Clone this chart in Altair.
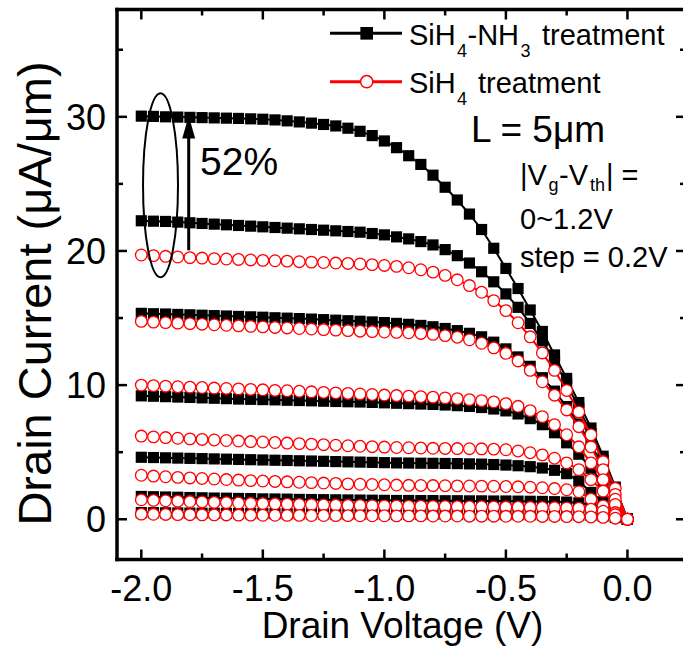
import altair as alt
import pandas as pd

FONT = "Liberation Sans"

# ---------------- data ----------------
vd = [-2.0, -1.95, -1.9, -1.85, -1.8, -1.75, -1.7, -1.65, -1.6, -1.55,
      -1.5, -1.45, -1.4, -1.35, -1.3, -1.25, -1.2, -1.15, -1.1, -1.05,
      -1.0, -0.95, -0.9, -0.85, -0.8, -0.75, -0.7, -0.65, -0.6, -0.55,
      -0.5, -0.45, -0.4, -0.35, -0.3, -0.25, -0.2, -0.15, -0.1, -0.05, 0.0]

# SiH4-NH3 treatment (black squares), |Vg-Vth| = 1.2 ... 0 V
b1 = [30.05, 30.03, 30.0, 29.98, 29.96, 29.94, 29.92, 29.9, 29.88, 29.85,
      29.82, 29.77, 29.7, 29.62, 29.53, 29.43, 29.32, 29.15, 28.92, 28.6,
      28.2, 27.7, 27.1, 26.45, 25.65, 24.75, 23.8, 22.75, 21.6, 20.2,
      18.7, 17.2, 15.6, 14.0, 12.25, 10.5, 8.7, 6.8, 4.7, 2.4, 0.0]
b2 = [22.25, 22.22, 22.2, 22.15, 22.1, 22.05, 22.0, 21.95, 21.9, 21.85,
      21.8, 21.75, 21.7, 21.65, 21.6, 21.55, 21.5, 21.45, 21.4, 21.3,
      21.2, 21.05, 20.9, 20.7, 20.45, 20.1, 19.65, 19.1, 18.45, 17.7,
      16.8, 15.8, 14.6, 13.3, 11.8, 10.1, 8.3, 6.4, 4.4, 2.25, 0.0]
b3 = [15.35, 15.32, 15.3, 15.27, 15.24, 15.21, 15.18, 15.15, 15.12, 15.09,
      15.06, 15.02, 14.99, 14.96, 14.92, 14.88, 14.84, 14.8, 14.76, 14.71,
      14.66, 14.6, 14.53, 14.45, 14.35, 14.22, 14.06, 13.86, 13.6, 13.2,
      12.7, 12.1, 11.4, 10.55, 9.55, 8.4, 7.1, 5.6, 3.9, 2.0, 0.0]
b4 = [9.2, 9.17, 9.14, 9.11, 9.08, 9.05, 9.02, 8.99, 8.96, 8.94,
      8.92, 8.9, 8.87, 8.85, 8.83, 8.8, 8.78, 8.76, 8.74, 8.71,
      8.68, 8.65, 8.62, 8.59, 8.56, 8.52, 8.47, 8.41, 8.33, 8.22,
      8.08, 7.85, 7.5, 7.05, 6.45, 5.7, 4.85, 3.8, 2.65, 1.35, 0.0]
b5 = [4.62, 4.6, 4.58, 4.56, 4.54, 4.52, 4.5, 4.48, 4.46, 4.44,
      4.42, 4.4, 4.38, 4.36, 4.34, 4.32, 4.3, 4.28, 4.26, 4.24,
      4.22, 4.2, 4.19, 4.18, 4.17, 4.16, 4.15, 4.13, 4.11, 4.08,
      4.04, 3.99, 3.92, 3.82, 3.65, 3.4, 2.85, 2.0, 1.3, 0.65, 0.0]
b6 = [1.7, 1.68, 1.66, 1.64, 1.62, 1.6, 1.58, 1.57, 1.55, 1.54,
      1.52, 1.51, 1.5, 1.48, 1.47, 1.46, 1.45, 1.44, 1.43, 1.42,
      1.41, 1.4, 1.4, 1.39, 1.39, 1.38, 1.38, 1.37, 1.37, 1.36,
      1.36, 1.35, 1.34, 1.33, 1.31, 1.28, 1.22, 1.1, 0.8, 0.42, 0.0]
b7 = [0.5, 0.49, 0.48, 0.47, 0.46, 0.45, 0.45, 0.44, 0.43, 0.43,
      0.42, 0.42, 0.41, 0.41, 0.4, 0.4, 0.39, 0.39, 0.38, 0.38,
      0.38, 0.37, 0.37, 0.37, 0.36, 0.36, 0.36, 0.35, 0.35, 0.35,
      0.34, 0.34, 0.34, 0.33, 0.33, 0.32, 0.31, 0.29, 0.24, 0.13, 0.0]

# SiH4 treatment (red open circles)
r1 = [19.7, 19.65, 19.6, 19.55, 19.5, 19.47, 19.43, 19.4, 19.37, 19.33,
      19.3, 19.27, 19.24, 19.2, 19.17, 19.14, 19.1, 19.07, 19.03, 18.98,
      18.92, 18.85, 18.75, 18.6, 18.42, 18.18, 17.85, 17.42, 16.92, 16.3,
      15.55, 14.65, 13.6, 12.4, 11.1, 9.6, 8.0, 6.3, 4.3, 2.3, 0.0]
r2 = [14.75, 14.7, 14.66, 14.62, 14.58, 14.54, 14.5, 14.46, 14.42, 14.38,
      14.34, 14.3, 14.26, 14.22, 14.18, 14.14, 14.1, 14.06, 14.02, 13.99,
      13.96, 13.93, 13.9, 13.85, 13.78, 13.69, 13.57, 13.38, 13.12, 12.78,
      12.37, 11.8, 11.1, 10.25, 9.25, 8.15, 6.9, 5.4, 3.7, 1.85, 0.0]
r3 = [10.0, 9.96, 9.92, 9.88, 9.85, 9.82, 9.78, 9.75, 9.72, 9.68,
      9.65, 9.61, 9.58, 9.54, 9.5, 9.46, 9.42, 9.38, 9.34, 9.3,
      9.26, 9.22, 9.18, 9.14, 9.1, 9.05, 8.99, 8.92, 8.84, 8.75,
      8.62, 8.42, 8.1, 7.65, 7.05, 6.3, 5.4, 4.2, 2.95, 1.5, 0.0]
r4 = [6.2, 6.14, 6.09, 6.04, 5.99, 5.95, 5.91, 5.87, 5.83, 5.79,
      5.76, 5.72, 5.68, 5.64, 5.6, 5.56, 5.52, 5.48, 5.44, 5.41,
      5.38, 5.35, 5.33, 5.31, 5.29, 5.28, 5.27, 5.26, 5.25, 5.23,
      5.18, 5.09, 4.96, 4.8, 4.55, 4.2, 3.7, 2.95, 2.1, 1.1, 0.0]
r5 = [3.28, 3.22, 3.17, 3.12, 3.08, 3.04, 3.0, 2.96, 2.92, 2.88,
      2.85, 2.82, 2.79, 2.76, 2.73, 2.7, 2.67, 2.64, 2.61, 2.59,
      2.57, 2.55, 2.53, 2.52, 2.51, 2.5, 2.49, 2.48, 2.47, 2.46,
      2.44, 2.42, 2.39, 2.35, 2.29, 2.2, 2.05, 1.5, 1.0, 0.5, 0.0]
r6 = [1.45, 1.41, 1.38, 1.35, 1.32, 1.29, 1.26, 1.24, 1.21, 1.19,
      1.17, 1.15, 1.13, 1.11, 1.09, 1.07, 1.06, 1.04, 1.03, 1.01,
      1.0, 0.99, 0.98, 0.97, 0.96, 0.95, 0.94, 0.93, 0.93, 0.92,
      0.91, 0.9, 0.89, 0.88, 0.87, 0.85, 0.82, 0.75, 0.6, 0.35, 0.0]
r7 = [0.38, 0.37, 0.36, 0.35, 0.34, 0.33, 0.33, 0.32, 0.31, 0.31,
      0.3, 0.3, 0.29, 0.29, 0.28, 0.28, 0.27, 0.27, 0.26, 0.26,
      0.26, 0.25, 0.25, 0.25, 0.24, 0.24, 0.24, 0.23, 0.23, 0.23,
      0.22, 0.22, 0.22, 0.21, 0.21, 0.2, 0.19, 0.17, 0.14, 0.08, 0.0]

black_curves = [b1, b2, b3, b4, b5, b6, b7]
red_curves = [r1, r2, r3, r4, r5, r6, r7]

x_major = [-2.0, -1.5, -1.0, -0.5, 0.0]
x_labels = ["-2.0", "-1.5", "-1.0", "-0.5", "0.0"]
x_minor = [-1.75, -1.25, -0.75, -0.25]
y_major = [0, 10, 20, 30]
y_labels = ["0", "10", "20", "30"]
y_minor = [5, 15, 25, 35]
x_domain = [-2.1, 0.2286]
y_domain = [-3, 38]

x_title = "Drain Voltage (V)"
y_title = "Drain Current (\u03bcA/\u03bcm)"

# annotation: arrow and ellipse (data coordinates)
arrow_x = [-1.805]
arrow_from = [20.05]
arrow_to = [30.1]
ellipse_x = [-1.921]
ellipse_y = [24.9]

# ---------------- layout ----------------
PAD_L, PAD_T, PAD_R, PAD_B = 117, 9.5, 0, 88.5
W, H = 566, 550


def df_from(curves):
    rows = []
    for k, ys_ in enumerate(curves):
        for v, i in zip(vd, ys_):
            rows.append({"Vd": v, "Id": i, "curve": k})
    return pd.DataFrame(rows)


df_b = df_from(black_curves)
df_r = df_from(red_curves)

xs = alt.Scale(domain=x_domain, nice=False, zero=False)
ys = alt.Scale(domain=y_domain, nice=False, zero=False)


def X(f):
    return alt.X(f, scale=xs, axis=None)


def Y(f):
    return alt.Y(f, scale=ys, axis=None)


black_line = alt.Chart(df_b).mark_line(color="black", strokeWidth=2).encode(
    x=X("Vd:Q"), y=Y("Id:Q"), detail="curve:N")
black_pts = alt.Chart(df_b).mark_point(shape="square", filled=True, color="black",
                                        size=125, opacity=1).encode(
    x=X("Vd:Q"), y=Y("Id:Q"))
red_line = alt.Chart(df_r).mark_line(color="#ff0000", strokeWidth=2).encode(
    x=X("Vd:Q"), y=Y("Id:Q"), detail="curve:N")
red_pts = alt.Chart(df_r).mark_point(shape="circle", filled=True, fill="white",
                                      stroke="#ff0000", strokeWidth=1.3, size=135,
                                      opacity=1, fillOpacity=1).encode(
    x=X("Vd:Q"), y=Y("Id:Q"))

one = pd.DataFrame({"d": [0]})

# ---- frame (left, top, bottom) ----
FW = 3.5
frame = [
    alt.Chart(one).mark_rule(color="black", strokeWidth=FW, strokeCap="square").encode(
        x=alt.value(0), y=alt.value(0), y2=alt.value(H)),
    alt.Chart(one).mark_rule(color="black", strokeWidth=FW, strokeCap="square").encode(
        x=alt.value(0), x2=alt.value(W + 3), y=alt.value(0)),
    alt.Chart(one).mark_rule(color="black", strokeWidth=FW, strokeCap="square").encode(
        x=alt.value(0), x2=alt.value(W + 3), y=alt.value(H)),
]

# ---- ticks (inward) ----
df_xmaj = pd.DataFrame({"v": x_major, "lab": x_labels})
df_xmin = pd.DataFrame({"v": x_minor})
df_ymaj = pd.DataFrame({"v": y_major, "lab": y_labels})
df_ymin = pd.DataFrame({"v": y_minor})
TW = 2.5
tick_layers = [
    alt.Chart(df_xmaj).mark_rule(color="black", strokeWidth=TW).encode(
        x=X("v:Q"), y=alt.value(0), y2=alt.value(10)),
    alt.Chart(df_xmin).mark_rule(color="black", strokeWidth=TW).encode(
        x=X("v:Q"), y=alt.value(0), y2=alt.value(6)),
    alt.Chart(df_xmaj).mark_rule(color="black", strokeWidth=TW).encode(
        x=X("v:Q"), y=alt.value(H), y2=alt.value(H - 10)),
    alt.Chart(df_xmin).mark_rule(color="black", strokeWidth=TW).encode(
        x=X("v:Q"), y=alt.value(H), y2=alt.value(H - 6)),
    alt.Chart(df_ymaj).mark_rule(color="black", strokeWidth=TW).encode(
        y=Y("v:Q"), x=alt.value(0), x2=alt.value(10)),
    alt.Chart(df_ymin).mark_rule(color="black", strokeWidth=TW).encode(
        y=Y("v:Q"), x=alt.value(0), x2=alt.value(6)),
    alt.Chart(df_ymaj).mark_rule(color="black", strokeWidth=TW).encode(
        y=Y("v:Q"), x=alt.value(W - 7), x2=alt.value(W)),
    alt.Chart(df_ymin).mark_rule(color="black", strokeWidth=TW).encode(
        y=Y("v:Q"), x=alt.value(W - 3), x2=alt.value(W)),
]

# ---- tick labels and axis titles ----
label_layers = [
    alt.Chart(df_xmaj).mark_text(font=FONT, fontSize=36, align="center",
                                 baseline="alphabetic", color="black").encode(
        x=X("v:Q"), y=alt.value(H + 41.5), text="lab:N"),
    alt.Chart(df_ymaj).mark_text(font=FONT, fontSize=36, align="right",
                                 baseline="middle", dy=2, color="black").encode(
        y=Y("v:Q"), x=alt.value(-11), text="lab:N"),
    alt.Chart(one).mark_text(text=x_title, font=FONT, fontSize=37, align="center",
                             baseline="alphabetic", color="black").encode(
        x=alt.value(285.5), y=alt.value(H + 78.5)),
    alt.Chart(one).mark_text(text=y_title, font=FONT, fontSize=47, align="center",
                             baseline="alphabetic", angle=270, color="black").encode(
        x=alt.value(-65.6), y=alt.value(284)),
]

# ---- arrow + ellipse ----
df_arrow = pd.DataFrame({"x": arrow_x, "y1": arrow_from, "y2": arrow_to})
arrow_line = alt.Chart(df_arrow).transform_calculate(ys2="datum.y2 - 1.4").mark_rule(
    color="black", strokeWidth=3).encode(
    x=X("x:Q"), y=Y("y1:Q"), y2="ys2:Q")
arrow_head = alt.Chart(df_arrow).mark_point(
    shape="M0,-1L0.56,1L-0.56,1Z", filled=True, color="black", size=529, opacity=1,
    yOffset=11.5).encode(x=X("x:Q"), y=Y("y2:Q"))
df_ell = pd.DataFrame({"x": ellipse_x, "y": ellipse_y})
ellipse = alt.Chart(df_ell).mark_point(
    shape="M0,-1A0.19,1,0,1,1,0,1A0.19,1,0,1,1,0,-1Z", filled=False, stroke="black",
    strokeWidth=2, size=33856, opacity=1).encode(x=X("x:Q"), y=Y("y:Q"))


# ---- legend and text annotations (page pixel positions) ----
def txt(s, px, py, size):
    return alt.Chart(one).mark_text(
        text=s, font=FONT, fontSize=size, align="left", baseline="alphabetic",
        color="black").encode(x=alt.value(px - PAD_L), y=alt.value(py - PAD_T))


legend_layers = [
    alt.Chart(one).mark_rule(color="black", strokeWidth=3).encode(
        x=alt.value(330 - PAD_L), x2=alt.value(402 - PAD_L), y=alt.value(33.3 - PAD_T)),
    alt.Chart(one).mark_point(shape="square", filled=True, color="black", size=160,
                              opacity=1).encode(
        x=alt.value(366.7 - PAD_L), y=alt.value(33.3 - PAD_T)),
    alt.Chart(one).mark_rule(color="#ff0000", strokeWidth=3).encode(
        x=alt.value(330 - PAD_L), x2=alt.value(402 - PAD_L), y=alt.value(81.7 - PAD_T)),
    alt.Chart(one).mark_point(shape="circle", filled=True, fill="white", stroke="#ff0000",
                              strokeWidth=1.5, size=150, opacity=1).encode(
        x=alt.value(366.7 - PAD_L), y=alt.value(81.7 - PAD_T)),
    txt("SiH", 409, 45, 29), txt("4", 457, 57, 18), txt("-NH", 467.5, 45, 29),
    txt("3", 520.5, 57, 18), txt("treatment", 542, 45, 29),
    txt("SiH", 409, 93, 29), txt("4", 457, 105, 18), txt("treatment", 478, 93, 29),
    txt("L = 5\u03bcm", 471, 142, 37),
    txt("|V", 520, 185, 29), txt("g", 548.5, 191, 18), txt("-V", 559, 185, 29),
    txt("th", 590, 190.5, 18), txt("| =", 606, 185, 29),
    txt("0~1.2V", 520, 229, 29), txt("step = 0.2V", 520, 267, 29),
    txt("52%", 200, 175, 39),
]

chart = alt.layer(
    black_line, black_pts, red_line, red_pts,
    *tick_layers, *frame, *label_layers, arrow_line, arrow_head, ellipse, *legend_layers
).properties(
    width=W, height=H,
    autosize=alt.AutoSizeParams(type="none"),
    padding={"left": PAD_L, "top": PAD_T, "right": PAD_R, "bottom": PAD_B},
    background="white",
).configure_view(stroke=None)

chart.save("out.html", embed_options={"renderer": "svg", "actions": False})
